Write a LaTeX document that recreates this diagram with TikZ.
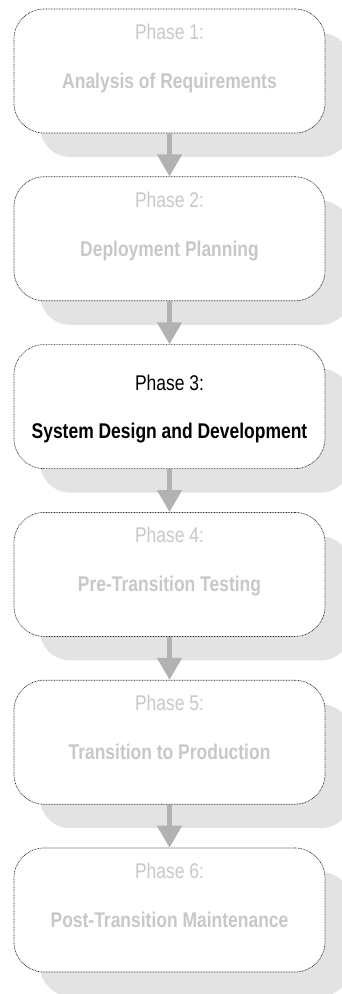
\documentclass[tikz,border=0pt]{standalone}
\usepackage{fontspec}
\setmainfont{Liberation Sans}[FakeStretch=0.82]
\usetikzlibrary{arrows.meta,shadows}
\definecolor{shadowgray}{RGB}{227,227,227}
\definecolor{textgray}{RGB}{200,200,200}
\definecolor{arrowgray}{RGB}{178,178,178}
\tikzset{
  phasebox/.style={draw=black!85, line width=0.7pt, dash pattern=on 0.8pt off 0.8pt,
    fill=white, rounded corners=30pt, minimum width=311pt, minimum height=124pt,
    inner sep=0pt,
    drop shadow={shadow xshift=26pt, shadow yshift=-24pt, fill=shadowgray, opacity=1, draw=none}},
  phaselabel/.style={anchor=base, inner sep=0pt, font=\fontsize{21.3}{24}\selectfont},
  titlelabel/.style={anchor=base, inner sep=0pt, font=\fontsize{21.3}{24}\selectfont\bfseries},
  dim/.style={text=textgray},
  flowarrow/.style={draw=arrowgray, line width=5pt, -{Triangle[width=24pt,length=22pt]}, arrowgray}
}
\begin{document}
\begin{tikzpicture}[x=1pt,y=-1pt]
\useasboundingbox (0,0) rectangle (342,994);
% boxes
\node[phasebox] (p1) at (169.5, 71.0) {};
\node[phasebox] (p2) at (169.5, 238.8) {};
\node[phasebox] (p3) at (169.5, 406.6) {};
\node[phasebox] (p4) at (169.5, 574.4) {};
\node[phasebox] (p5) at (169.5, 742.2) {};
\node[phasebox] (p6) at (169.5, 910.0) {};
% texts
\node[phaselabel,dim] (t1a) at (169.5, 39.5) {Phase 1:};
\node[titlelabel,dim] (t1b) at (169.5, 88.5) {Analysis of Requirements};
\node[phaselabel,dim] (t2a) at (169.5, 207.3) {Phase 2:};
\node[titlelabel,dim] (t2b) at (169.5, 256.3) {Deployment Planning};
\node[phaselabel] (t3a) at (169.5, 390.0) {Phase 3:};
\node[titlelabel] (t3b) at (169.5, 438.0) {System Design and Development};
\node[phaselabel,dim] (t4a) at (169.5, 542.9) {Phase 4:};
\node[titlelabel,dim] (t4b) at (169.5, 591.9) {Pre-Transition Testing};
\node[phaselabel,dim] (t5a) at (169.5, 710.7) {Phase 5:};
\node[titlelabel,dim] (t5b) at (169.5, 759.7) {Transition to Production};
\node[phaselabel,dim] (t6a) at (169.5, 878.5) {Phase 6:};
\node[titlelabel,dim] (t6b) at (169.5, 927.5) {Post-Transition Maintenance};
% arrows
\draw[flowarrow] (p1.south) -- (p2.north);
\draw[flowarrow] (p2.south) -- (p3.north);
\draw[flowarrow] (p3.south) -- (p4.north);
\draw[flowarrow] (p4.south) -- (p5.north);
\draw[flowarrow] (p5.south) -- (p6.north);
\end{tikzpicture}
\end{document}
